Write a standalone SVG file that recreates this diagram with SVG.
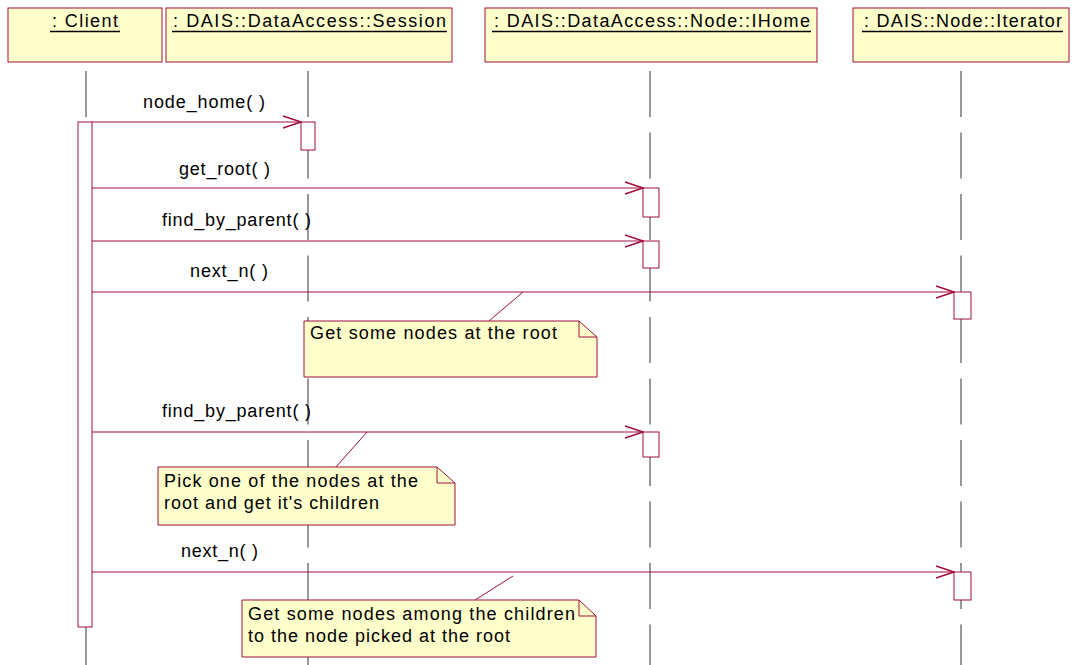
<svg xmlns="http://www.w3.org/2000/svg" width="1074" height="665" viewBox="0 0 1074 665">
<style>
.box{fill:#ffffcc;stroke:#a0103c;stroke-width:1}
.act{fill:#ffffff;stroke:#a0103c;stroke-width:1}
.life{stroke:#333333;stroke-width:1;stroke-dasharray:46 15.5;fill:none}
.msg{stroke:#a0103c;stroke-width:1;fill:none}
.anchor{stroke:#a0103c;stroke-width:1;fill:none}
.t{font-family:"Liberation Sans",Arial,sans-serif;font-size:18px;fill:#000000}
.ul{stroke:#000000;stroke-width:1.5}
</style>
<defs>
<marker id="open" viewBox="0 0 20 14" refX="19" refY="7" markerWidth="20" markerHeight="14" markerUnits="userSpaceOnUse" orient="auto">
<path d="M1,1 L19,7 L1,13" fill="none" stroke="#a0103c" stroke-width="1.5"/>
</marker>
</defs>
<rect width="1074" height="665" fill="#ffffff"/>

<g id="client">
<rect class="box" x="8" y="8" width="154" height="54"/>
<text class="t" x="52" y="27" textLength="66" lengthAdjust="spacing">: Client</text>
<line class="ul" x1="50" y1="31.5" x2="120" y2="31.5"/>
<line class="life" x1="86" y1="71" x2="86" y2="665"/>
<rect class="act" x="78" y="122" width="14" height="505"/>
</g>

<g id="session">
<rect class="box" x="166" y="8" width="286" height="54"/>
<text class="t" x="173" y="27" textLength="273" lengthAdjust="spacing">: DAIS::DataAccess::Session</text>
<line class="ul" x1="172" y1="31.5" x2="447" y2="31.5"/>
<line class="life" x1="308" y1="71" x2="308" y2="665"/>
<rect class="act" x="301" y="122" width="14" height="28"/>
</g>

<g id="ihome">
<rect class="box" x="485" y="8" width="332" height="54"/>
<text class="t" x="494" y="27" textLength="316" lengthAdjust="spacing">: DAIS::DataAccess::Node::IHome</text>
<line class="ul" x1="492" y1="31.5" x2="811" y2="31.5"/>
<line class="life" x1="650" y1="71" x2="650" y2="665"/>
<rect class="act" x="643" y="188" width="16" height="29"/>
<rect class="act" x="643" y="241" width="16" height="27"/>
<rect class="act" x="643" y="432" width="16" height="25"/>
</g>

<g id="iterator">
<rect class="box" x="853" y="8" width="216" height="54"/>
<text class="t" x="864" y="27" textLength="198" lengthAdjust="spacing">: DAIS::Node::Iterator</text>
<line class="ul" x1="862" y1="31.5" x2="1063" y2="31.5"/>
<line class="life" x1="961" y1="71" x2="961" y2="665"/>
<rect class="act" x="954" y="292" width="17" height="27"/>
<rect class="act" x="954" y="572" width="17" height="28"/>
</g>

<g id="connectors">
<line class="msg" x1="92" y1="122" x2="301" y2="122" marker-end="url(#open)"/>
<text class="t" x="143" y="108" textLength="122" lengthAdjust="spacing">node_home( )</text>
<line class="msg" x1="92" y1="188" x2="643" y2="188" marker-end="url(#open)"/>
<text class="t" x="179" y="175" textLength="91" lengthAdjust="spacing">get_root( )</text>
<line class="msg" x1="92" y1="241" x2="643" y2="241" marker-end="url(#open)"/>
<text class="t" x="162" y="226" textLength="149" lengthAdjust="spacing">find_by_parent( )</text>
<line class="msg" x1="92" y1="292" x2="954" y2="292" marker-end="url(#open)"/>
<text class="t" x="190" y="277" textLength="78" lengthAdjust="spacing">next_n( )</text>
<line class="msg" x1="92" y1="432" x2="643" y2="432" marker-end="url(#open)"/>
<text class="t" x="162" y="417" textLength="149" lengthAdjust="spacing">find_by_parent( )</text>
<line class="msg" x1="92" y1="572" x2="954" y2="572" marker-end="url(#open)"/>
<text class="t" x="181" y="557" textLength="77" lengthAdjust="spacing">next_n( )</text>
<line class="anchor" x1="489" y1="321" x2="523" y2="292"/>
<line class="anchor" x1="336" y1="467" x2="367" y2="432"/>
<line class="anchor" x1="475" y1="600" x2="513" y2="576"/>
</g>

<g id="note1">
<path class="box" d="M304,321 L579,321 L597,337 L597,377 L304,377 Z"/>
<path class="anchor" d="M579,321 L579,337 L597,337"/>
<text class="t" x="310" y="339" textLength="247" lengthAdjust="spacing">Get some nodes at the root</text>
</g>

<g id="note2">
<path class="box" d="M158,467 L437,467 L455,483 L455,525 L158,525 Z"/>
<path class="anchor" d="M437,467 L437,483 L455,483"/>
<text class="t" x="164" y="487" textLength="254" lengthAdjust="spacing">Pick one of the nodes at the</text>
<text class="t" x="164" y="509" textLength="215" lengthAdjust="spacing">root and get it's children</text>
</g>

<g id="note3">
<path class="box" d="M242,600 L579,600 L596,616 L596,657 L242,657 Z"/>
<path class="anchor" d="M579,600 L579,616 L596,616"/>
<text class="t" x="248" y="620" textLength="327" lengthAdjust="spacing">Get some nodes among the children</text>
<text class="t" x="248" y="642" textLength="262" lengthAdjust="spacing">to the node picked at the root</text>
</g>
</svg>
